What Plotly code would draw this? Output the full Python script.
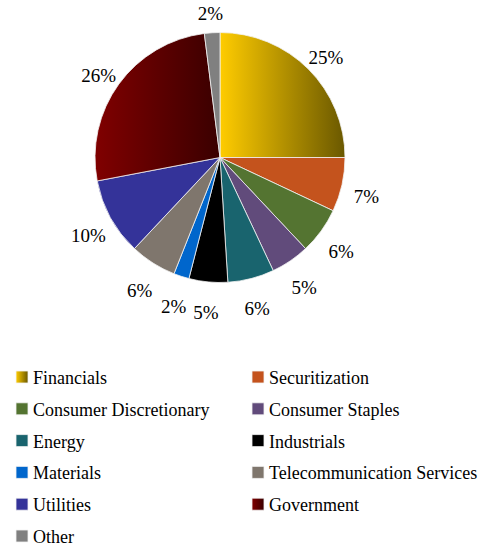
import json
import plotly.graph_objects as go

# Portfolio breakdown by sector (percent of total)
categories = [
    "Financials", "Securitization", "Consumer Discretionary", "Consumer Staples",
    "Energy", "Industrials", "Materials", "Telecommunication Services",
    "Utilities", "Government", "Other",
]
shares = [25, 7, 6, 5, 6, 5, 2, 6, 10, 26, 2]

slice_colors = [
    "#C9A300", "#C4531D", "#547431", "#614B7B", "#19646E", "#000000",
    "#0066CC", "#7F766D", "#343399", "#600000", "#808080",
]
# left-to-right shading for the two largest slices
gradients = {0: ["#FFCC00", "#6A5800"], 9: ["#800000", "#3A0000"]}

SERIF = "Liberation Serif, Times New Roman, Times, serif"
W, H = 482, 548
cx, cy, r = 220, 157.5, 125
# percentage labels: centred on the slice mid-angle, on a ring slightly below the pie centre
label_radius = 1.2 * r
label_drop = 6

fig = go.Figure(
    go.Pie(
        labels=categories,
        values=shares,
        sort=False,
        direction="clockwise",
        rotation=0,
        marker=dict(colors=slice_colors, line=dict(color="#F2F2F2", width=0.8)),
        texttemplate="%{percent:.0%}",
        textposition="outside",
        textfont=dict(family=SERIF, size=19, color="black"),
        domain=dict(
            x=[(cx - r) / W, (cx + r) / W],
            y=[(H - cy - r) / H, (H - cy + r) / H],
        ),
        hoverinfo="label+percent",
    )
)

fig.update_layout(
    width=W,
    height=H,
    margin=dict(l=0, r=0, t=0, b=0),
    paper_bgcolor="white",
    plot_bgcolor="white",
    showlegend=True,
    legend=dict(
        orientation="h",
        x=0,
        xanchor="left",
        y=1 - 366 / H,
        yanchor="top",
        entrywidth=180,
        entrywidthmode="pixels",
        traceorder="normal",
        font=dict(family=SERIF, size=18, color="black"),
        bgcolor="rgba(0,0,0,0)",
    ),
)

post_js = """
(function(){
  var gd = document.getElementById('{plot_id}');
  var cfg = CFG;
  var NS = 'http://www.w3.org/2000/svg';
  var svg = gd.querySelector('svg.main-svg');
  var org = svg.getBoundingClientRect();
  var defs = svg.querySelector('defs');
  var grads = cfg.grads;
  Object.keys(grads).forEach(function(k){
    var lg = document.createElementNS(NS, 'linearGradient');
    lg.setAttribute('id', 'sliceGrad' + k);
    lg.setAttribute('x1', '0'); lg.setAttribute('y1', '0');
    lg.setAttribute('x2', '1'); lg.setAttribute('y2', '0');
    grads[k].forEach(function(c, j){
      var s = document.createElementNS(NS, 'stop');
      s.setAttribute('offset', String(j));
      s.setAttribute('stop-color', c);
      lg.appendChild(s);
    });
    defs.appendChild(lg);
  });
  var slices = gd.querySelectorAll('.pielayer g.slice');
  var items = gd.querySelectorAll('.legend g.traces');
  Object.keys(grads).forEach(function(k){
    var i = +k;
    var p = slices[i] && slices[i].querySelector('path.surface');
    if (p) p.style.fill = 'url(#sliceGrad' + k + ')';
    var q = items[i] && items[i].querySelector('path.legendpie');
    if (q) q.style.fill = 'url(#sliceGrad' + k + ')';
  });

  // percentage labels sit on the mid-angle of their slice, no leader lines
  gd.querySelectorAll('.pielayer path.textline').forEach(function(l){ l.style.display = 'none'; });
  var total = cfg.values.reduce(function(a, b){ return a + b; }, 0);
  var cum = 0;
  cfg.values.forEach(function(v, i){
    var th = 2 * Math.PI * (cum + v / 2) / total;
    cum += v;
    var g = slices[i] && slices[i].querySelector('g.slicetext');
    if (!g) return;
    var b = g.getBoundingClientRect();
    var tx = cfg.cx + cfg.lr * Math.sin(th), ty = cfg.cy + cfg.drop - cfg.lr * Math.cos(th);
    var dx = tx - (b.left - org.left + b.width / 2), dy = ty - (b.top - org.top + b.height / 2);
    g.setAttribute('transform', 'translate(' + dx + ',' + dy + ') ' + (g.getAttribute('transform') || ''));
  });

  // two-column legend with fixed row pitch
  var sb = gd.querySelector('.legend .scrollbox');
  if (sb) sb.removeAttribute('clip-path');
  var bar = gd.querySelector('.legend .scrollbar');
  if (bar) bar.style.display = 'none';
  var m0 = /translate\\(([-\\d.]+),\\s*([-\\d.]+)\\)/.exec(items[0].getAttribute('transform'));
  var x0 = +m0[1], y0 = +m0[2];
  items.forEach(function(it, i){
    var col = i % 2, row = Math.floor(i / 2);
    it.setAttribute('transform', 'translate(' + (x0 + col * cfg.colw) + ',' + (y0 + row * cfg.rowh) + ')');
    var t = it.querySelector('text.legendtext');
    if (t) t.setAttribute('x', cfg.textx);
  });
  var sw = items[0].querySelector('path.legendpie').getBoundingClientRect();
  var sx = cfg.sw0[0] - (sw.left - org.left + sw.width / 2);
  var sy = cfg.sw0[1] - (sw.top - org.top + sw.height / 2);
  items.forEach(function(it, i){
    var col = i % 2, row = Math.floor(i / 2);
    it.setAttribute('transform', 'translate(' + (x0 + sx + col * cfg.colw) + ',' + (y0 + sy + row * cfg.rowh) + ')');
  });
})();
"""
cfg = dict(
    grads={str(k): v for k, v in gradients.items()},
    values=shares,
    cx=cx, cy=cy, lr=label_radius, drop=label_drop,
    colw=236, rowh=31.8, textx=31, sw0=[22, 377],
)
post_js = post_js.replace("CFG", json.dumps(cfg))

fig.write_html("out.html", post_script=post_js)
